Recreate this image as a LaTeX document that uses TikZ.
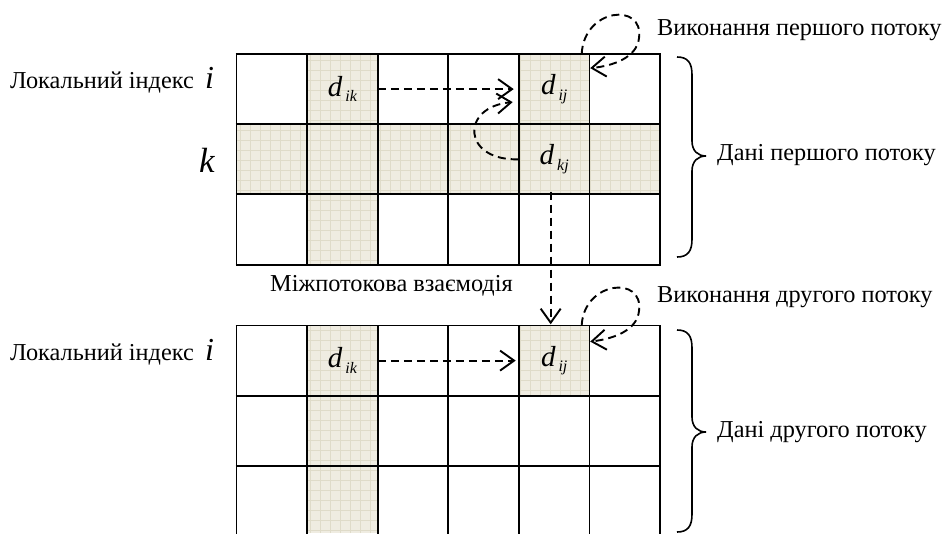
\documentclass[tikz,border=0pt]{standalone}
\usepackage{fontspec}
\setmainfont{Liberation Serif}
\usetikzlibrary{arrows.meta,calc}

\definecolor{cellfill}{RGB}{239,236,225}
\definecolor{cellgrid}{RGB}{223,219,201}

% element d with an italic two-letter index
\newcommand{\dvar}[1]{{\fontsize{29}{29}\selectfont\itshape d}\hspace{3pt}\raisebox{-5.5pt}{\fontsize{16}{16}\selectfont\itshape #1}}

% tinted block with a fine background grid: x1 y1 x2 y2
\newcommand{\tintcell}[4]{%
  \fill[cellfill] (#1,#2) rectangle (#3,#4);
  \begin{scope}[y=1pt]
    \clip (#1,-#2) rectangle (#3,-#4);
    \draw[cellgrid, line width=0.6pt, step=10] (#1,-#2) grid (#3,-#4);
  \end{scope}}

\tikzset{
  gridline/.style={line width=1.9pt, black},
  cellbox/.style={rectangle, minimum width=70.6pt, minimum height=70.2pt, inner sep=0pt},
  flow/.style={line width=1.9pt, dash pattern=on 8pt off 5pt,
    -{Straight Barb[length=14pt, width=20pt, line width=1.9pt]}},
  bracestyle/.style={line width=1.6pt},
  lbl/.style={font=\fontsize{24.3}{27}\selectfont, inner sep=0pt},
  mathlbl/.style={font=\fontsize{32}{32}\selectfont\itshape, inner sep=0pt},
}

\begin{document}
\begin{tikzpicture}[x=1pt, y=-1pt]
  \useasboundingbox[fill=white] (0,0) rectangle (944,533);

  % ---- first thread: tinted column k, row k and cell (i,j)
  \tintcell{307.1}{54}{377.7}{264.6}
  \tintcell{236.5}{124.2}{660.1}{194.4}
  \tintcell{518.9}{54}{589.5}{124.2}

  % ---- second thread: tinted column and cell (i,j)
  \tintcell{307.1}{325.5}{377.7}{533}
  \tintcell{518.9}{325.5}{589.5}{395.7}

  % ---- grid lines of the first block
  \foreach \yy in {54,124.2,194.4,264.6}
    \draw[gridline] (235.6,\yy) -- (661,\yy);
  \foreach \xx in {236.5,307.1,377.7,448.3,518.9,589.5,660.1}
    \draw[gridline] (\xx,54) -- (\xx,264.6);

  % ---- grid lines of the second block (runs past the lower edge)
  \foreach \yy in {325.5,395.7,465.9}
    \draw[gridline] (235.6,\yy) -- (661,\yy);
  \foreach \xx in {236.5,307.1,377.7,448.3,518.9,589.5,660.1}
    \draw[gridline] (\xx,325.5) -- (\xx,534);

  % ---- labelled cells
  \node[cellbox] (dik1) at (342.4,89.1)  {\dvar{ik}};
  \node[cellbox] (dij1) at (554.2,89.1)  {\dvar{ij}};
  \node[cellbox] (dkj1) at (554.2,159.3) {\dvar{kj}};
  \node[cellbox] (dik2) at (342.4,360.6) {\dvar{ik}};
  \node[cellbox] (dij2) at (554.2,360.6) {\dvar{ij}};

  % ---- row/column captions
  \node[lbl, anchor=base west] (loc1) at (10,88.3) {Локальний індекс};
  \node[mathlbl, anchor=base west] (i1) at (205,88.3) {i};
  \node[mathlbl, font=\fontsize{35}{35}\selectfont\itshape, anchor=base west] (k1) at (199,172) {k};
  \node[lbl, anchor=base west] (loc2) at (10,360) {Локальний індекс};
  \node[mathlbl, anchor=base west] (i2) at (205,360) {i};

  \node[lbl, anchor=base west] (exec1) at (657,35) {Виконання першого потоку};
  \node[lbl, anchor=base west] (data1) at (717,160) {Дані першого потоку};
  \node[lbl, anchor=base west] (inter) at (270,291) {Міжпотокова взаємодія};
  \node[lbl, anchor=base west] (exec2) at (657,302) {Виконання другого потоку};
  \node[lbl, anchor=base west] (data2) at (717,437) {Дані другого потоку};

  % ---- auxiliary end points of the arrows
  \coordinate (c1)  at ($(dij1.west)+(-6,13)$);
  \coordinate (l1s) at ($(dij1.north east)+(-8,0)$);
  \coordinate (l1e) at ($(dij1.east)+(0.5,-21)$);
  \coordinate (l2s) at ($(dij2.north east)+(-8,0)$);
  \coordinate (l2e) at ($(dij2.east)+(0.5,-19)$);
  \coordinate (v1s) at ($(dkj1.south)+(-3.5,-3)$);
  \coordinate (v1e) at ($(dij2.north)+(-3.5,0)$);

  % ---- data flow inside the first thread
  \draw[flow, shorten >=5pt] (dik1.east) -- (dij1.west);
  \draw[flow] (dkj1.west) .. controls (462,161) and (460,107) .. (c1);
  \draw[flow] (l1s) .. controls (584,8) and (644,2) .. (639,38)
                    .. controls (637,58) and (612,66) .. (l1e);

  % ---- interaction between threads
  \draw[flow, shorten >=1pt] (v1s) -- (v1e);

  % ---- data flow inside the second thread
  \draw[flow, shorten >=3pt] (dik2.east) -- (dij2.west);
  \draw[flow] (l2s) .. controls (584,281) and (644,275) .. (639,311)
                    .. controls (637,331) and (612,339) .. (l2e);

  % ---- braces grouping the rows of each thread
  \draw[bracestyle] (677,57) .. controls (688,57) and (692,63) .. (692,75)
    -- (692,141) .. controls (692,151) and (698,156) .. (706,156)
    .. controls (698,156) and (692,161) .. (692,171)
    -- (692,239) .. controls (692,251) and (688,257) .. (677,257);
  \draw[bracestyle] (677,330) .. controls (688,330) and (692,336) .. (692,348)
    -- (692,417) .. controls (692,427) and (698,432) .. (706,432)
    .. controls (698,432) and (692,437) .. (692,447)
    -- (692,514) .. controls (692,526) and (688,532) .. (677,532);
\end{tikzpicture}
\end{document}
